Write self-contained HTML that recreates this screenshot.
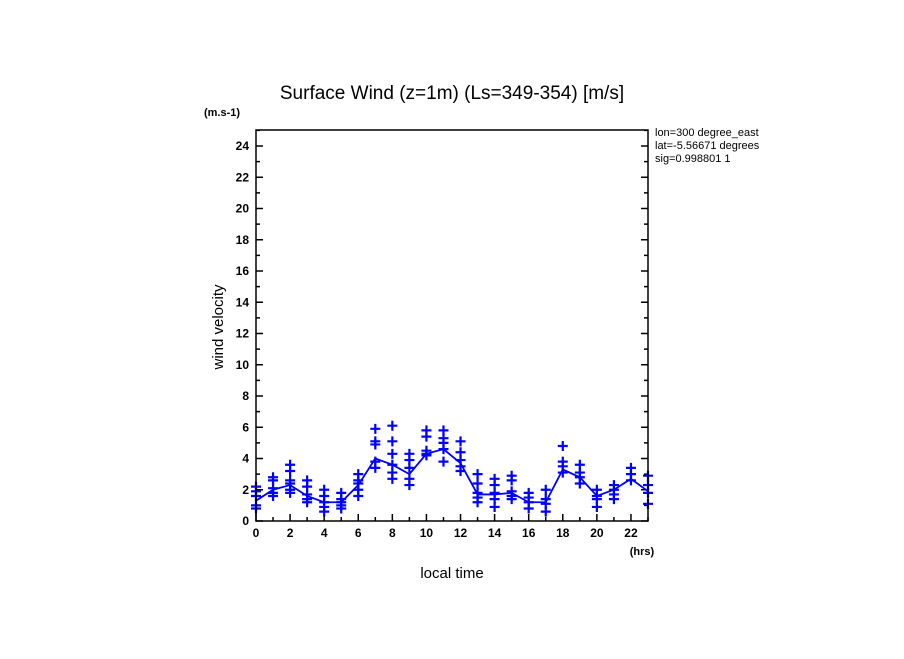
<!DOCTYPE html>
<html><head><meta charset="utf-8"><style>
body{margin:0;background:#fff;width:904px;height:654px;overflow:hidden}
svg{font-family:"Liberation Sans",sans-serif}
</style></head><body>
<svg id="chart" width="904" height="654" viewBox="0 0 904 654">
<text x="452" y="99" font-size="19" text-anchor="middle">Surface Wind (z=1m) (Ls=349-354) [m/s]</text>
<text x="222" y="116" font-size="11" font-weight="bold" text-anchor="middle">(m.s-1)</text>
<text x="642" y="555" font-size="11" font-weight="bold" text-anchor="middle">(hrs)</text>
<text x="452" y="578" font-size="15" text-anchor="middle">local time</text>
<text transform="translate(223,327) rotate(-90)" font-size="15" text-anchor="middle">wind velocity</text>
<svg x="653" y="124" width="127" height="50">
<text x="2" y="12" font-size="11">lon=300 degree_east</text>
<text x="2" y="25" font-size="11">lat=-5.56671 degrees</text>
<text x="2" y="38" font-size="11">sig=0.998801 1</text>
</svg>
<g id="axes"></g>
<g id="marks"></g>
<rect x="256" y="130" width="392" height="391" fill="none" stroke="#000" stroke-width="1.5"/>
</svg>
<script>
const hours=[0,1,2,3,4,5,6,7,8,9,10,11,12,13,14,15,16,17,18,19,20,21,22,23];
const meanValues=[1.3,2.0,2.3,1.6,1.2,1.2,2.3,4.0,3.6,3.0,4.3,4.6,3.7,1.7,1.7,1.8,1.2,1.2,3.3,2.8,1.6,2.0,2.7,1.9];
const samples=[[2.2,1.6,1.0,0.8,1.9],[2.8,2.6,2.1,1.8,1.6],[3.6,3.2,2.6,2.4,2.0,1.8],[2.6,2.2,1.7,1.4,1.2],[2.0,1.6,1.2,0.9,0.6],[1.8,1.4,1.2,1.0,0.8],[3.0,2.6,2.4,2.0,1.6],[5.9,5.1,4.9,3.8,3.4],[6.1,5.1,4.3,3.6,3.1,2.7],[4.3,3.9,3.4,2.7,2.3],[5.8,5.4,4.5,4.3,4.2],[5.8,5.3,5.0,4.6,3.8],[5.1,4.4,3.9,3.5,3.2],[3.0,2.4,1.8,1.5,1.2],[2.7,2.3,1.8,1.4,0.9],[2.9,2.6,1.9,1.6,1.4],[1.8,1.5,1.2,0.8],[2.0,1.4,1.1,0.6],[4.8,3.8,3.5,3.1],[3.6,3.1,2.8,2.4],[2.0,1.6,1.4,0.9],[2.3,2.0,1.7,1.4],[3.4,3.0,2.6],[2.9,2.3,1.8,1.1]];
const xTicks=[0,2,4,6,8,10,12,14,16,18,20,22];
const yTicks=[0,2,4,6,8,10,12,14,16,18,20,22,24];
const X=h=>256+h*(392/23);
const Y=v=>521-v*(375/24);
const NS="http://www.w3.org/2000/svg";
const ax=document.getElementById('axes'),mk=document.getElementById('marks');
function mkEl(t,a,p){const e=document.createElementNS(NS,t);for(const k in a)e.setAttribute(k,a[k]);p.appendChild(e);return e;}
for(let v=0;v<=25;v++){
  const len=v%2===0?7:4,y=Y(v);
  const l=mkEl('line',{x1:256,x2:256+len,y1:y,y2:y,stroke:'#000','stroke-width':1.5},ax);
  
  
  const r=mkEl('line',{x1:648,x2:648-len,y1:y,y2:y,stroke:'#000','stroke-width':1.5},ax);
  
  
}
yTicks.forEach(v=>{const t=mkEl('text',{x:249,y:Y(v)+4,'font-size':12,'font-weight':'bold','text-anchor':'end'},ax);t.textContent=v;
  
  });
for(let h=0;h<=23;h++){
  const len=h%2===0?7:4;
  const l=mkEl('line',{x1:X(h),x2:X(h),y1:521,y2:521-len,stroke:'#000','stroke-width':1.5},ax);
  
  
}
xTicks.forEach(h=>{const t=mkEl('text',{x:X(h),y:537,'font-size':12,'font-weight':'bold','text-anchor':'middle'},ax);t.textContent=h;
  
  });
const line=mkEl('polyline',{points:hours.map((h,i)=>X(h)+','+Y(meanValues[i])).join(' '),fill:'none',stroke:'#0000ff','stroke-width':1.8},mk);


samples.forEach((arr,i)=>arr.forEach(v=>{
  const x=X(hours[i]),y=Y(v);
  const p=mkEl('path',{d:`M${x-5},${y}H${x+5}M${x},${y-5}V${y+5}`,stroke:'#0000ff','stroke-width':2.2},mk);
  
  
}));
</script>
</body></html>
